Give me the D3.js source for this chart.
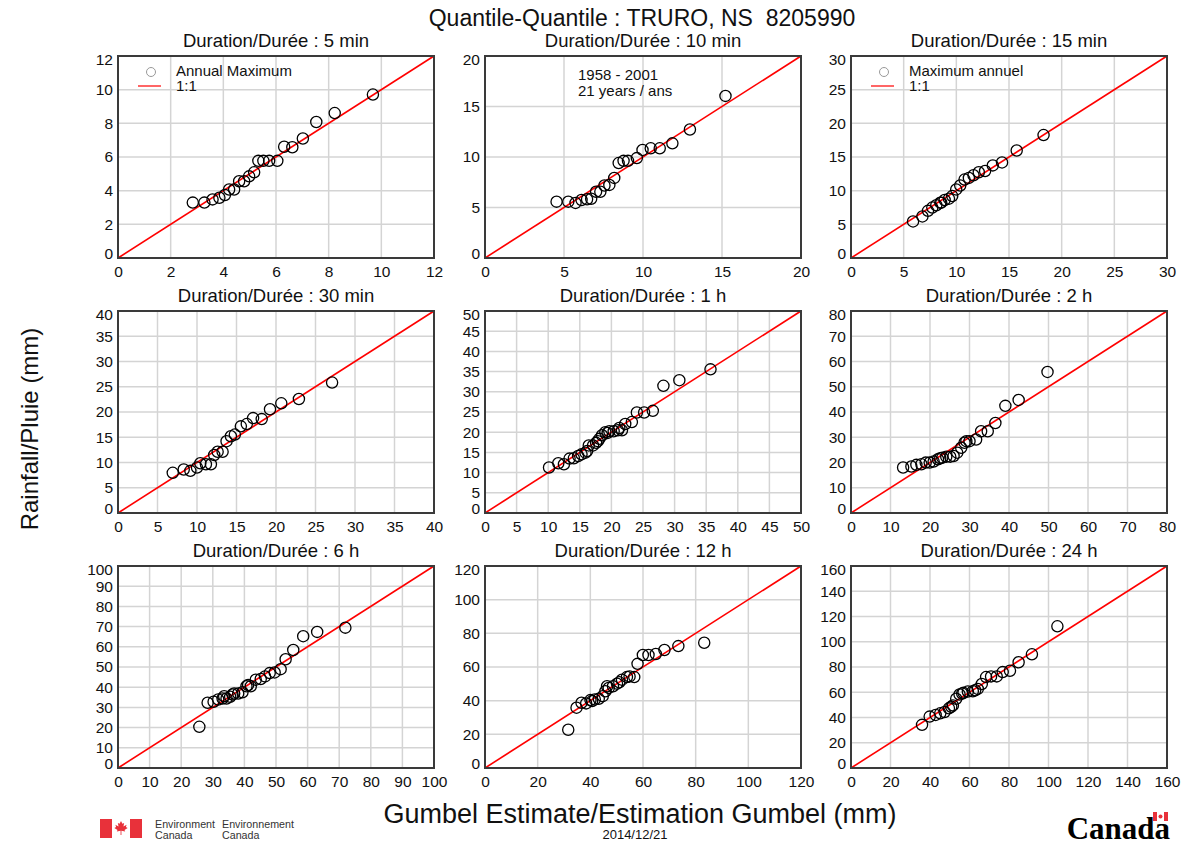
<!DOCTYPE html>
<html>
<head>
<meta charset="utf-8">
<script src="https://cdn.jsdelivr.net/npm/d3@7"></script>
<style>
  body { margin: 0; background: #fff; }
  svg { font-family: "Liberation Sans", Arial, Helvetica, sans-serif; }
</style>
</head>
<body>
<svg width="1187" height="845"></svg>
<script>
// panel settings
const durations = ["5 min", "10 min", "15 min", "30 min", "1 h", "2 h", "6 h", "12 h", "24 h"];
const axisMax = [12, 20, 30, 40, 50, 80, 100, 120, 160];
const tickStep = [2, 5, 5, 5, 5, 10, 10, 20, 20];

// gumbel estimate (x) / observed annual maximum (y), mm
const gumbel5 = [2.84, 3.28, 3.59, 3.85, 4.06, 4.22, 4.41, 4.60, 4.79, 4.98, 5.17, 5.33, 5.52, 5.74, 6.05, 6.31, 6.62, 7.02, 7.53, 8.23, 9.68];
const rain5 = [3.29, 3.29, 3.48, 3.58, 3.74, 4.07, 4.07, 4.56, 4.56, 4.85, 5.09, 5.77, 5.77, 5.77, 5.77, 6.61, 6.58, 7.10, 8.08, 8.61, 9.71];

const gumbel10 = [4.53, 5.27, 5.73, 6.11, 6.46, 6.72, 7.03, 7.30, 7.56, 7.87, 8.18, 8.46, 8.77, 9.05, 9.61, 9.97, 10.49, 11.06, 11.86, 12.97, 15.22];
const rain10 = [5.58, 5.58, 5.45, 5.74, 5.81, 5.87, 6.56, 6.56, 7.18, 7.24, 7.93, 9.40, 9.62, 9.62, 9.89, 10.70, 10.86, 10.86, 11.35, 12.72, 16.05];

const gumbel15 = [5.89, 6.78, 7.31, 7.72, 8.10, 8.48, 8.57, 8.89, 9.30, 9.61, 9.99, 10.37, 10.78, 11.19, 11.63, 12.13, 12.73, 13.46, 14.34, 15.73, 18.28];
const rain15 = [5.43, 6.17, 7.00, 7.49, 7.83, 8.22, 8.22, 8.61, 8.81, 9.20, 10.18, 10.77, 11.65, 11.89, 12.29, 12.73, 12.92, 13.75, 14.19, 15.96, 18.26];

const gumbel30 = [6.93, 8.32, 9.16, 10.0, 10.42, 11.13, 11.76, 12.18, 12.61, 13.24, 13.74, 14.29, 14.79, 15.55, 16.30, 17.10, 18.19, 19.24, 20.67, 22.90, 27.10];
const rain30 = [7.96, 8.61, 8.35, 9.00, 9.85, 9.65, 9.65, 11.48, 12.13, 12.13, 14.22, 15.20, 15.53, 17.16, 17.61, 18.79, 18.59, 20.55, 21.72, 22.57, 25.83];

const gumbel1h = [10.13, 11.60, 12.49, 13.38, 14.06, 14.74, 15.27, 15.90, 16.16, 16.42, 17.10, 17.58, 17.84, 18.10, 18.52, 19.04, 19.41, 19.67, 20.36, 21.04, 21.25, 21.67, 22.19, 23.24, 24.03, 25.18, 26.55, 28.23, 30.75, 35.68];
const rain1h = [11.26, 12.32, 12.07, 13.46, 13.54, 14.11, 14.52, 14.93, 15.33, 16.72, 16.72, 17.37, 17.78, 18.35, 19.25, 19.98, 19.82, 20.23, 20.23, 20.47, 21.04, 20.47, 22.02, 22.51, 24.88, 24.88, 25.29, 31.48, 32.87, 35.56];

const gumbel2h = [13.19, 15.29, 16.55, 17.82, 18.91, 19.92, 20.92, 22.02, 22.60, 23.11, 24.12, 25.13, 25.97, 26.89, 27.90, 28.74, 29.20, 30.00, 31.68, 32.94, 34.62, 36.55, 39.08, 42.44, 49.75];
const rain2h = [18.02, 18.41, 19.06, 19.32, 19.97, 19.97, 20.37, 21.28, 21.67, 21.93, 22.32, 22.32, 22.58, 23.89, 25.85, 27.81, 28.46, 28.46, 29.11, 32.38, 32.38, 35.64, 42.43, 44.78, 55.87];

const gumbel6h = [25.74, 28.36, 30.25, 31.72, 33.09, 33.60, 34.35, 35.50, 36.24, 36.76, 38.03, 39.39, 40.65, 41.18, 42.02, 43.59, 45.17, 46.53, 48.00, 49.58, 51.47, 53.05, 55.46, 58.61, 63.03, 71.95];
const rain6h = [20.39, 32.30, 32.79, 33.93, 34.42, 35.56, 34.42, 35.24, 36.38, 36.87, 36.87, 37.52, 40.46, 41.10, 40.46, 43.72, 44.05, 45.35, 46.98, 47.31, 48.94, 53.83, 58.40, 65.25, 67.37, 69.49];

const gumbel12h = [31.61, 34.76, 36.65, 38.41, 40.05, 40.68, 41.69, 43.20, 44.71, 45.72, 46.35, 46.98, 48.61, 50.13, 51.00, 52.02, 53.90, 54.90, 56.68, 57.93, 59.95, 62.09, 64.86, 68.14, 73.43, 83.25];
const rain12h = [22.71, 35.83, 38.76, 38.37, 40.33, 39.74, 40.72, 41.11, 42.68, 45.61, 48.55, 47.57, 48.55, 50.12, 50.90, 52.47, 54.03, 54.42, 54.03, 61.86, 67.15, 67.15, 67.74, 70.09, 72.43, 74.39];

const gumbel24h = [35.97, 39.83, 42.86, 45.21, 47.39, 49.58, 50.76, 51.60, 53.28, 54.96, 56.30, 56.97, 59.16, 61.68, 62.86, 64.20, 66.22, 68.40, 70.92, 73.78, 76.81, 80.50, 84.87, 91.60, 104.5];
const rain24h = [34.19, 40.72, 42.03, 43.33, 44.37, 47.25, 48.55, 49.60, 54.82, 58.21, 59.00, 59.51, 60.56, 60.82, 61.60, 62.65, 66.56, 72.04, 72.56, 72.56, 75.96, 77.00, 83.79, 90.05, 112.24];

const series = [
  [gumbel5, rain5], [gumbel10, rain10], [gumbel15, rain15],
  [gumbel30, rain30], [gumbel1h, rain1h], [gumbel2h, rain2h],
  [gumbel6h, rain6h], [gumbel12h, rain12h], [gumbel24h, rain24h]
];

const svg = d3.select("svg");

const W = 316, H = 202;
const colX = [118, 485, 851];
const rowY = [56, 311, 566];

durations.forEach((dur, i) => {
  const max = axisMax[i], step = tickStep[i];
  const ticks = d3.range(0, max + step / 2, step);
  const x = d3.scaleLinear().domain([0, max]).range([0, W]);
  const y = d3.scaleLinear().domain([0, max]).range([H, 0]);

  const g = svg.append("g")
    .attr("transform", `translate(${colX[i % 3]},${rowY[Math.floor(i / 3)]})`);

  // grid
  g.append("g").selectAll("line").data(ticks.slice(1, -1)).join("line")
    .attr("x1", d => x(d)).attr("x2", d => x(d)).attr("y1", 0).attr("y2", H)
    .attr("stroke", "#d4d4d4").attr("stroke-width", 1.5);
  g.append("g").selectAll("line").data(ticks.slice(1, -1)).join("line")
    .attr("y1", d => y(d)).attr("y2", d => y(d)).attr("x1", 0).attr("x2", W)
    .attr("stroke", "#d4d4d4").attr("stroke-width", 1.5);

  // axes (labels only)
  const xa = g.append("g").attr("transform", `translate(0,${H})`)
    .call(d3.axisBottom(x).tickValues(ticks).tickSize(0).tickPadding(8).tickFormat(d3.format("d")));
  const ya = g.append("g")
    .call(d3.axisLeft(y).tickValues(ticks).tickSize(0).tickPadding(5).tickFormat(d3.format("d")));
  [xa, ya].forEach(a => {
    a.select(".domain").remove();
    a.selectAll("text").attr("font-size", 15.5).attr("fill", "#111")
      .attr("font-family", "Liberation Sans, Arial, sans-serif");
  });
  ya.selectAll("text").attr("dy", (d, k) => d === 0 ? "0.05em" : (k === ticks.length - 1 ? "0.55em" : "0.32em"));

  // 1:1 line
  g.append("line")
    .attr("x1", x(0)).attr("y1", y(0)).attr("x2", x(max)).attr("y2", y(max))
    .attr("stroke", "#f00").attr("stroke-width", 1.6);

  // points
  const [gx, ry] = series[i];
  g.append("g").selectAll("circle").data(gx.map((v, k) => [v, ry[k]])).join("circle")
    .attr("cx", d => x(d[0])).attr("cy", d => y(d[1])).attr("r", 5.6)
    .attr("fill", "none").attr("stroke", "#000").attr("stroke-width", 1.3);

  // frame
  g.append("rect").attr("width", W).attr("height", H)
    .attr("fill", "none").attr("stroke", "#3a3a3a").attr("stroke-width", 2);

  // title
  g.append("text").attr("x", W / 2).attr("y", -9).attr("text-anchor", "middle")
    .attr("font-size", 18.5).attr("fill", "#111").text("Duration/Durée : " + dur);

  // legends
  if (i === 0 || i === 2) {
    const label = i === 0 ? "Annual Maximum" : "Maximum annuel";
    g.append("circle").attr("cx", 33).attr("cy", 16).attr("r", 4.5)
      .attr("fill", "none").attr("stroke", "#999").attr("stroke-width", 1);
    g.append("line").attr("x1", 20).attr("x2", 43).attr("y1", 30).attr("y2", 30)
      .attr("stroke", "#f33").attr("stroke-width", 1.5);
    g.append("text").attr("x", 58).attr("y", 20).attr("font-size", 15).attr("fill", "#111").text(label);
    g.append("text").attr("x", 58).attr("y", 35).attr("font-size", 15).attr("fill", "#111").text("1:1");
  }
  if (i === 1) {
    g.append("text").attr("x", 93).attr("y", 24).attr("font-size", 15).attr("fill", "#111").text("1958 - 2001");
    g.append("text").attr("x", 93).attr("y", 40).attr("font-size", 15).attr("fill", "#111").text("21 years / ans");
  }
});

// main titles
svg.append("text").attr("x", 642).attr("y", 26).attr("text-anchor", "middle")
  .attr("font-size", 23).attr("fill", "#111").text("Quantile-Quantile : TRURO, NS  8205990")
  .style("white-space", "pre");
svg.append("text").attr("x", 640).attr("y", 823).attr("text-anchor", "middle")
  .attr("font-size", 27).attr("fill", "#111").text("Gumbel Estimate/Estimation Gumbel (mm)");
svg.append("text").attr("transform", "translate(38,429) rotate(-90)").attr("text-anchor", "middle")
  .attr("font-size", 24).attr("fill", "#111").text("Rainfall/Pluie (mm)");
svg.append("text").attr("x", 635).attr("y", 839).attr("text-anchor", "middle")
  .attr("font-size", 13).attr("fill", "#111").text("2014/12/21");

// Environment Canada signature
const sig = svg.append("g");
sig.append("rect").attr("x", 100).attr("y", 819).attr("width", 12).attr("height", 19).attr("fill", "#e8313a");
sig.append("rect").attr("x", 130).attr("y", 819).attr("width", 12).attr("height", 19).attr("fill", "#e8313a");
const leaf = [[0, -1], [0.2, -0.6], [0.45, -0.7], [0.35, -0.2], [0.8, -0.45], [0.7, -0.15], [0.95, 0], [0.5, 0.3], [0.6, 0.5],
  [0.06, 0.4], [0.06, 1], [-0.06, 1], [-0.06, 0.4], [-0.6, 0.5], [-0.5, 0.3], [-0.95, 0], [-0.7, -0.15], [-0.8, -0.45],
  [-0.35, -0.2], [-0.45, -0.7], [-0.2, -0.6]];
sig.append("path").attr("d", d3.line()(leaf.map(p => [121 + p[0] * 7, 828 + p[1] * 7])) + "Z").attr("fill", "#e8313a");
[["Environment", 155], ["Environnement", 222]].forEach(([t, xx]) => {
  sig.append("text").attr("x", xx).attr("y", 828).attr("font-size", 10.7).attr("fill", "#333").text(t);
  sig.append("text").attr("x", xx).attr("y", 839).attr("font-size", 10.7).attr("fill", "#333").text("Canada");
});

// Canada wordmark
svg.append("text").attr("x", 1170).attr("y", 839).attr("text-anchor", "end")
  .attr("font-family", "Liberation Serif, Times New Roman, serif").attr("font-weight", "bold")
  .attr("font-size", 31).attr("fill", "#000").text("Canada");
svg.append("rect").attr("x", 1153).attr("y", 812).attr("width", 4).attr("height", 9).attr("fill", "#e8313a");
svg.append("rect").attr("x", 1164).attr("y", 812).attr("width", 4).attr("height", 9).attr("fill", "#e8313a");
svg.append("circle").attr("cx", 1160.5).attr("cy", 816.5).attr("r", 2).attr("fill", "#e8313a");
</script>
</body>
</html>
